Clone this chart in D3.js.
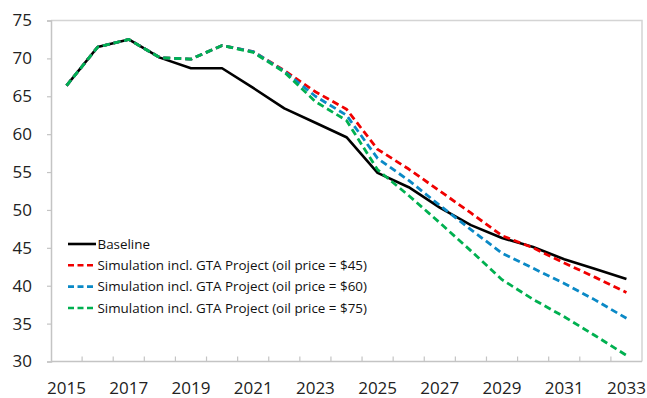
<!DOCTYPE html>
<html>
<head>
<meta charset="utf-8">
<script src="https://cdn.jsdelivr.net/npm/d3@7"></script>
<style>
  html, body { margin: 0; padding: 0; background: #fff; }
  svg { display: block; font-family: "Open Sans", "Noto Sans", sans-serif; }
</style>
</head>
<body>
<svg id="chart" width="647" height="398"></svg>
<script>
// Years on the category axis
const years = [2015, 2016, 2017, 2018, 2019, 2020, 2021, 2022, 2023, 2024,
               2025, 2026, 2027, 2028, 2029, 2030, 2031, 2032, 2033];

// Series values
const baseline = [66.4, 71.5, 72.5, 70.1, 68.7, 68.7, 66.1, 63.4, 61.5, 59.6,
                  54.9, 53.0, 50.3, 48.0, 46.3, 45.1, 43.5, 42.2, 40.9];
const oil45 = [66.4, 71.5, 72.5, 70.1, 69.9, 71.7, 70.9, 68.4, 65.6, 63.3,
               58.0, 55.4, 52.5, 49.6, 46.6, 45.0, 43.0, 41.1, 39.1];
const oil60 = [66.4, 71.5, 72.5, 70.1, 69.9, 71.7, 70.9, 68.3, 65.0, 62.5,
               56.8, 53.9, 50.6, 47.4, 44.3, 42.3, 40.3, 38.1, 35.7];
const oil75 = [66.4, 71.5, 72.5, 70.1, 69.9, 71.7, 70.8, 68.2, 64.3, 61.8,
               55.3, 51.9, 48.3, 44.6, 40.8, 38.2, 35.9, 33.4, 30.8];

// Axis ticks and legend labels
const yTicks = [30, 35, 40, 45, 50, 55, 60, 65, 70, 75];
const xLabelYears = [2015, 2017, 2019, 2021, 2023, 2025, 2027, 2029, 2031, 2033];
const seriesNames = [
  "Baseline",
  "Simulation incl. GTA Project (oil price = $45)",
  "Simulation incl. GTA Project (oil price = $60)",
  "Simulation incl. GTA Project (oil price = $75)"
];

const svg = d3.select("#chart");
const plot = { left: 51, right: 642, top: 20.5, bottom: 361.5 };

const x = d3.scaleBand().domain(years).range([plot.left, plot.right]);
const y = d3.scaleLinear().domain([30, 75]).range([plot.bottom, plot.top]);
const cx = d => x(d) + x.bandwidth() / 2;

const axisColor = "#c4c4c4";

// Plot area frame (top and right edges)
svg.append("path")
  .attr("d", `M${plot.left},${plot.top}H${plot.right}V${plot.bottom}`)
  .attr("fill", "none").attr("stroke", "#d4d4d4").attr("stroke-width", 1.5);

// Y axis
const yAxis = svg.append("g")
  .attr("transform", `translate(${plot.left},0)`)
  .call(d3.axisLeft(y).tickValues(yTicks).tickSize(4).tickPadding(15).tickFormat(d3.format("d")));
yAxis.select(".domain").attr("stroke", axisColor).attr("stroke-width", 1.5);
yAxis.selectAll(".tick line").attr("stroke", axisColor).attr("stroke-width", 1.2);
yAxis.selectAll(".tick text")
  .attr("font-size", 17).attr("fill", "#222").attr("font-family", "'Open Sans', sans-serif");

// X axis: tick marks sit on category boundaries, pointing inward
const xg = svg.append("g").attr("transform", `translate(0,${plot.bottom})`);
xg.append("line")
  .attr("x1", plot.left).attr("x2", plot.right)
  .attr("stroke", axisColor).attr("stroke-width", 1.5);
xg.selectAll("line.tk")
  .data(years.slice(1))
  .join("line").attr("class", "tk")
  .attr("x1", d => x(d)).attr("x2", d => x(d))
  .attr("y1", 0).attr("y2", -5)
  .attr("stroke", axisColor).attr("stroke-width", 1.2);
xg.selectAll("text")
  .data(xLabelYears)
  .join("text")
  .attr("x", d => cx(d))
  .attr("y", 32.5)
  .attr("text-anchor", "middle")
  .attr("font-size", 17).attr("fill", "#222")
  .text(d => d);

// Lines
const series = [
  { name: seriesNames[0], values: baseline, color: "#000000", dash: null },
  { name: seriesNames[1], values: oil45, color: "#f00000", dash: "7,4" },
  { name: seriesNames[2], values: oil60, color: "#0a89c6", dash: "7,4" },
  { name: seriesNames[3], values: oil75, color: "#00b050", dash: "7,4" }
];

const line = d3.line()
  .x((d, i) => cx(years[i]))
  .y(d => y(d));

svg.append("g").selectAll("path")
  .data(series)
  .join("path")
  .attr("d", s => line(s.values))
  .attr("fill", "none")
  .attr("stroke", s => s.color)
  .attr("stroke-width", s => s.dash ? 2.8 : 2.6)
  .attr("stroke-dasharray", s => s.dash)
  .attr("stroke-linejoin", "round");

// Legend
const legend = svg.append("g");
const rowY = [244, 265.3, 286.6, 308];
const lg = legend.selectAll("g")
  .data(series)
  .join("g")
  .attr("transform", (s, i) => `translate(68,${rowY[i]})`);
lg.append("line")
  .attr("x1", 0).attr("x2", 28)
  .attr("stroke", s => s.color)
  .attr("stroke-width", 2.6)
  .attr("stroke-dasharray", s => s.dash ? "6,3.5" : null);
lg.append("text")
  .attr("x", 29.5).attr("y", 0).attr("dy", "0.35em")
  .attr("font-size", 13.4).attr("fill", "#111")
  .text(s => s.name);
</script>
</body>
</html>
